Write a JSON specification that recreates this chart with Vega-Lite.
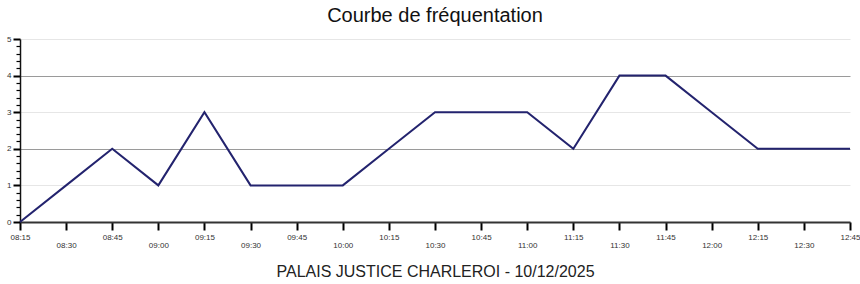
{
  "$schema": "https://vega.github.io/schema/vega-lite/v6.json",
  "autosize": "none",
  "width": 830,
  "height": 183,
  "padding": {"left": 20, "top": 39, "right": 10, "bottom": 62},
  "background": "white",
  "title": {
    "text": "Courbe de fréquentation",
    "font": "Liberation Sans",
    "fontSize": 20,
    "fontWeight": "normal",
    "color": "#111",
    "anchor": "middle",
    "offset": 9
  },
  "config": {
    "view": {"stroke": null},
    "axis": {"labelFont": "Liberation Sans", "titleFont": "Liberation Sans", "ticks": true, "tickOpacity": 1}
  },
  "data": {
    "values": [
      {"time": "08:15", "count": 0},
      {"time": "08:30", "count": 1},
      {"time": "08:45", "count": 2},
      {"time": "09:00", "count": 1},
      {"time": "09:15", "count": 3},
      {"time": "09:30", "count": 1},
      {"time": "09:45", "count": 1},
      {"time": "10:00", "count": 1},
      {"time": "10:15", "count": 2},
      {"time": "10:30", "count": 3},
      {"time": "10:45", "count": 3},
      {"time": "11:00", "count": 3},
      {"time": "11:15", "count": 2},
      {"time": "11:30", "count": 4},
      {"time": "11:45", "count": 4},
      {"time": "12:00", "count": 3},
      {"time": "12:15", "count": 2},
      {"time": "12:30", "count": 2},
      {"time": "12:45", "count": 2}
    ]
  },
  "resolve": {"axis": {"y": "independent"}},
  "layer": [
    {
      "mark": {"type": "rule", "opacity": 0},
      "encoding": {
        "y": {
          "field": "count",
          "type": "quantitative",
          "scale": {"domain": [0, 5]},
          "axis": {
            "orient": "left",
            "values": [0.2, 0.4, 0.6, 0.8, 1.2, 1.4, 1.6, 1.8, 2.2, 2.4, 2.6, 2.8, 3.2, 3.4, 3.6, 3.8, 4.2, 4.4, 4.6, 4.8],
            "labels": false,
            "domain": false,
            "grid": false,
            "ticks": true,
            "tickSize": 4,
            "tickColor": "#000",
            "tickOpacity": 1,
            "tickWidth": 1.2,
            "title": null
          }
        }
      }
    },
    {
      "mark": {"type": "line", "color": "#23236e", "strokeWidth": 2},
      "encoding": {
        "x": {
          "field": "time",
          "type": "ordinal",
          "scale": {"type": "point", "padding": 0},
          "axis": {
            "labelAngle": 0,
            "labelFontSize": 8,
            "labelColor": "#333",
            "labelPadding": {"condition": {"test": "slice(datum.value, 3) == '30' || slice(datum.value, 3) == '00'", "value": 11}, "value": 3},
            "ticks": true,
            "tickSize": 8,
            "tickWidth": 2,
            "tickColor": "#000",
            "tickOpacity": 1,
            "domainColor": "#333",
            "domainWidth": 2,
            "grid": false,
            "title": "PALAIS JUSTICE CHARLEROI - 10/12/2025",
            "titleFontSize": 16,
            "titleFontWeight": "normal",
            "titleColor": "#222",
            "titlePadding": 14
          }
        },
        "y": {
          "field": "count",
          "type": "quantitative",
          "scale": {"domain": [0, 5]},
          "axis": {
            "orient": "left",
            "values": [0, 1, 2, 3, 4, 5],
            "labelFontSize": 8,
            "labelColor": "#333",
            "labelPadding": 2,
            "ticks": true,
            "tickSize": 7,
            "tickWidth": 2,
            "tickColor": "#000",
            "tickOpacity": 1,
            "domainColor": "#111",
            "domainWidth": 1.5,
            "grid": true,
            "gridColor": {"condition": {"test": "datum.value % 2 == 0", "value": "#9a9a9a"}, "value": "#e6e6e6"},
            "gridWidth": 1,
            "title": null
          }
        }
      }
    }
  ]
}
